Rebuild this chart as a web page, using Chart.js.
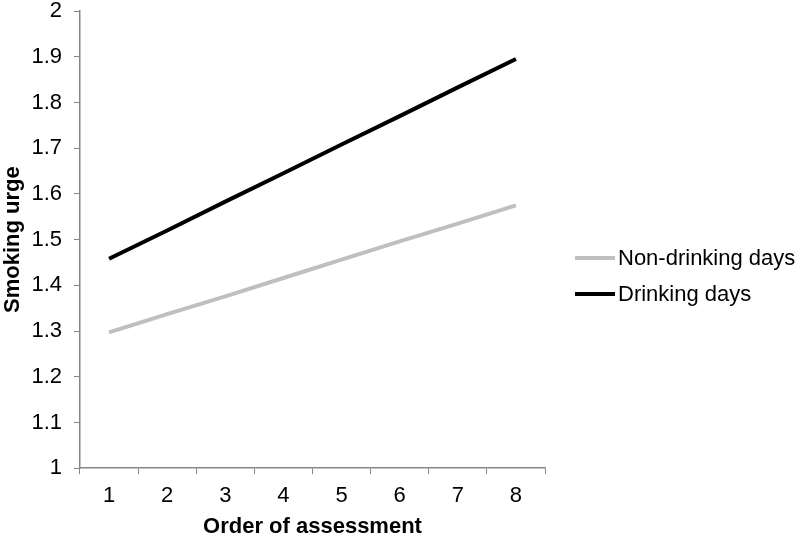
<!DOCTYPE html>
<html>
<head>
<meta charset="utf-8">
<script src="https://cdn.jsdelivr.net/npm/chart.js@4/dist/chart.umd.min.js"></script>
<style>
    html, body { margin: 0; padding: 0; background: #fff; }
    #wrap { width: 800px; height: 536px; }
</style>
</head>
<body>
<div id="wrap"><canvas id="chart"></canvas></div>
<script>
const categories = ['1', '2', '3', '4', '5', '6', '7', '8'];
const nonDrinking = [1.297, 1.337, 1.376, 1.416, 1.456, 1.496, 1.535, 1.575];
const drinking = [1.458, 1.520, 1.583, 1.645, 1.708, 1.770, 1.833, 1.895];

const axisGrey = '#868686';
const fontFamily = '"Liberation Sans", Arial, sans-serif';
const fontSize = 22;

// legend drawn by hand to the right of the plot
const sideLegend = {
    id: 'sideLegend',
    afterDraw(chart) {
        const c = chart.ctx;
        const x0 = 575, lineLen = 40, rowY = [258, 294];
        c.save();
        c.font = fontSize + 'px ' + fontFamily;
        c.textBaseline = 'middle';
        c.textAlign = 'left';
        chart.data.datasets.forEach(function (ds, i) {
            c.strokeStyle = ds.borderColor;
            c.lineWidth = ds.borderWidth;
            c.beginPath();
            c.moveTo(x0, rowY[i]);
            c.lineTo(x0 + lineLen, rowY[i]);
            c.stroke();
            c.fillStyle = '#000';
            c.fillText(ds.label, x0 + lineLen + 3, rowY[i] + 1);
        });
        c.restore();
    }
};

document.addEventListener('DOMContentLoaded', function () {
    const ctx = document.getElementById('chart').getContext('2d');
    const chart = new Chart(ctx, {
        type: 'line',
        data: {
            labels: categories,
            datasets: [{
                label: 'Non-drinking days',
                data: nonDrinking,
                borderColor: '#bfbfbf',
                borderWidth: 4,
                pointRadius: 0,
                tension: 0
            }, {
                label: 'Drinking days',
                data: drinking,
                borderColor: '#000000',
                borderWidth: 4,
                pointRadius: 0,
                tension: 0
            }]
        },
        options: {
            responsive: true,
            maintainAspectRatio: false,
            animation: false,
            layout: { padding: { top: 11, right: 255, left: 0, bottom: -4 } },
            plugins: {
                tooltip: { enabled: false },
                legend: { display: false }
            },
            scales: {
                x: {
                    offset: true,
                    grid: {
                        offset: true,
                        drawOnChartArea: false,
                        tickLength: 6,
                        color: axisGrey
                    },
                    border: { color: axisGrey, width: 1.5 },
                    ticks: {
                        color: '#000',
                        font: { family: fontFamily, size: fontSize },
                        padding: 9
                    },
                    title: {
                        display: true,
                        text: 'Order of assessment',
                        color: '#000',
                        font: { family: fontFamily, size: fontSize, weight: 'bold' },
                        padding: { top: -5, bottom: 0 }
                    }
                },
                y: {
                    min: 1,
                    max: 2,
                    afterFit: function (scale) {
                        scale.paddingTop = 0;
                    },
                    grid: {
                        drawOnChartArea: false,
                        tickLength: 6,
                        color: axisGrey
                    },
                    border: { color: axisGrey, width: 1.5 },
                    ticks: {
                        stepSize: 0.1,
                        color: '#000',
                        font: { family: fontFamily, size: fontSize, lineHeight: 1 },
                        padding: 12,
                        callback: function (value) {
                            return Number(value.toFixed(1)).toString();
                        }
                    },
                    title: {
                        display: true,
                        text: 'Smoking urge',
                        color: '#000',
                        font: { family: fontFamily, size: fontSize, weight: 'bold' },
                        padding: { top: 0, bottom: -7 }
                    }
                }
            }
        },
        plugins: [sideLegend]
    });
});
</script>
</body>
</html>
